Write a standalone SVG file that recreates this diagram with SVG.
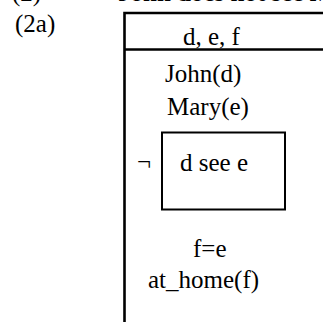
<svg xmlns="http://www.w3.org/2000/svg" width="323" height="322" viewBox="0 0 323 322">
<style>
text{font-family:"Liberation Serif","Times New Roman",serif;font-size:25px;fill:#000}
.ln{stroke:#000;fill:none}
</style>
<rect width="323" height="322" fill="#fff"/>
<text x="12" y="1">(2)</text>
<text x="118" y="1" font-weight="bold">John does not see Mary</text>
<text x="15" y="32">(2a)</text>
<g id="drs">
<path class="ln" d="M124.5,322 V13 H323" stroke-width="2.6"/>
<path class="ln" d="M124.5,49.5 H323" stroke-width="2.4"/>
<text x="183" y="45">d, e, f</text>
<text x="165" y="82">John(d)</text>
<text x="167" y="115">Mary(e)</text>
<text x="193" y="257">f=e</text>
<text x="148" y="288">at_home(f)</text>
</g>
<g id="neg">
<text x="137" y="170">¬</text>
<rect class="ln" x="162" y="132.5" width="123" height="77" stroke-width="2"/>
<text x="180" y="171">d see e</text>
</g>
</svg>
